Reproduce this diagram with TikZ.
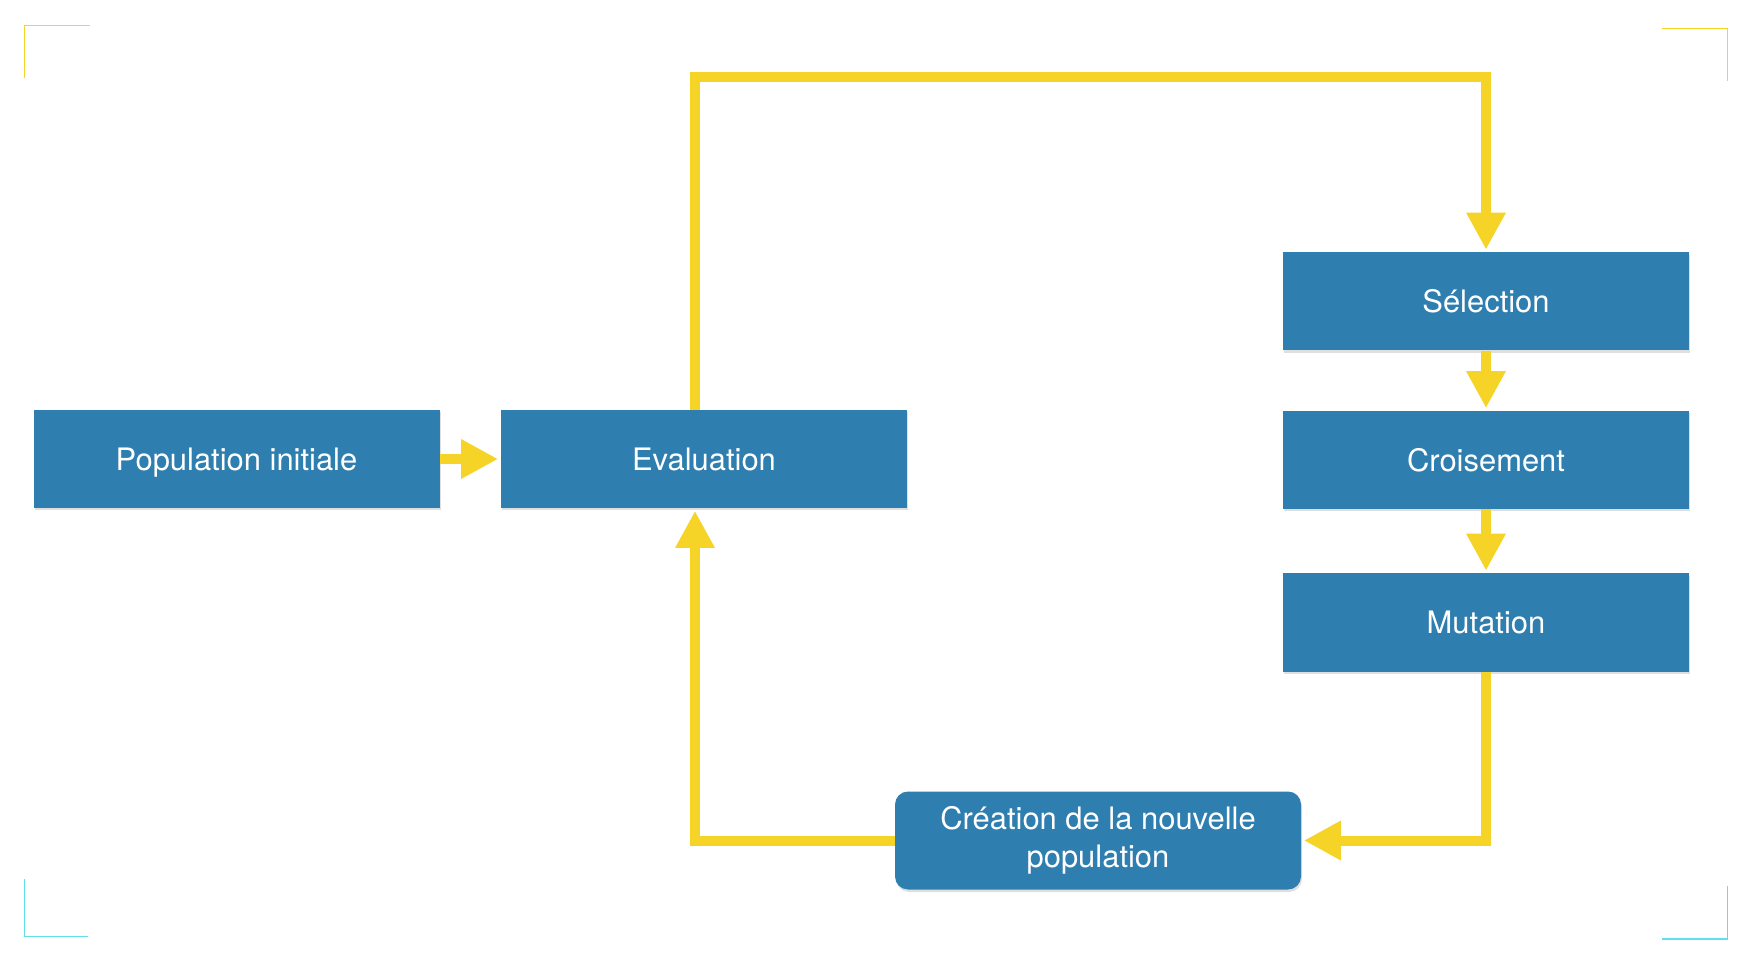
\documentclass[tikz,border=0pt]{standalone}
\usepackage{fontspec}
\setmainfont{TeX Gyre Heros}
\usepackage{tikz}
\usetikzlibrary{arrows.meta,positioning,shadows}

\definecolor{boxblue}{HTML}{2E7EB0}
\definecolor{flowyellow}{HTML}{F5D327}
\definecolor{markcyan}{HTML}{5FE0EC}

\tikzset{
  block/.style={fill=boxblue, text=white, minimum width=8.12cm, minimum height=1.96cm, inner sep=0pt,
    font=\fontsize{17.6pt}{21.4pt}\selectfont,
    drop shadow={shadow xshift=0.02cm, shadow yshift=-0.05cm, opacity=0.25}},
  squareblock/.style={block, text height=0.45cm, text depth=0pt},
  roundblock/.style={block, rounded corners=0.26cm, align=center},
  flow/.style={line width=0.2cm, draw=flowyellow},
  cornermark/.style={line width=0.03cm}
}

\begin{document}
\begin{tikzpicture}[>={Triangle[length=0.74cm,width=0.74cm]},shorten >=0.05cm,node distance=3.2cm]
  \useasboundingbox (0,0) rectangle (35.16,-19.44);

  \node [squareblock] (0) at (4.73,-9.18) {Population initiale};
  \node [squareblock,right of=0,xshift=6.15cm] (1) {Evaluation};
  \node [squareblock,right of=1,xshift=12.44cm,yshift=3.15cm] (2) {Sélection};
  \node [squareblock,below of=2,yshift=0.03cm] (3) {Croisement};
  \node [squareblock,below of=3,yshift=-0.05cm] (4) {Mutation};
  \node [roundblock,left of=4,xshift=-4.56cm,yshift=-4.36cm] (5) {Création de la nouvelle\\population};

  \draw[->,flow] (0) -- (1);
  \draw[->,flow] (2) -- (3);
  \draw[->,flow] (3) -- (4);
  \draw[->,flow] ([xshift=-0.18cm]1.north) -- ++(0,6.66cm) -| (2);
  \draw[->,flow] (4) |- (5);
  \draw[->,flow] (5) -| ([xshift=-0.18cm]1.south);

  % corner marks
  \draw[cornermark,flowyellow] (1.8,-0.506) -- (0.486,-0.506) -- (0.486,-1.62);
  \draw[cornermark,flowyellow] (33.24,-0.566) -- (34.546,-0.566) -- (34.546,-1.68);
  \draw[cornermark,markcyan] (0.486,-17.58) -- (0.486,-18.726) -- (1.8,-18.726);
  \draw[cornermark,markcyan] (33.24,-18.78) -- (34.55,-18.78) -- (34.55,-17.66);

\end{tikzpicture}
\end{document}
